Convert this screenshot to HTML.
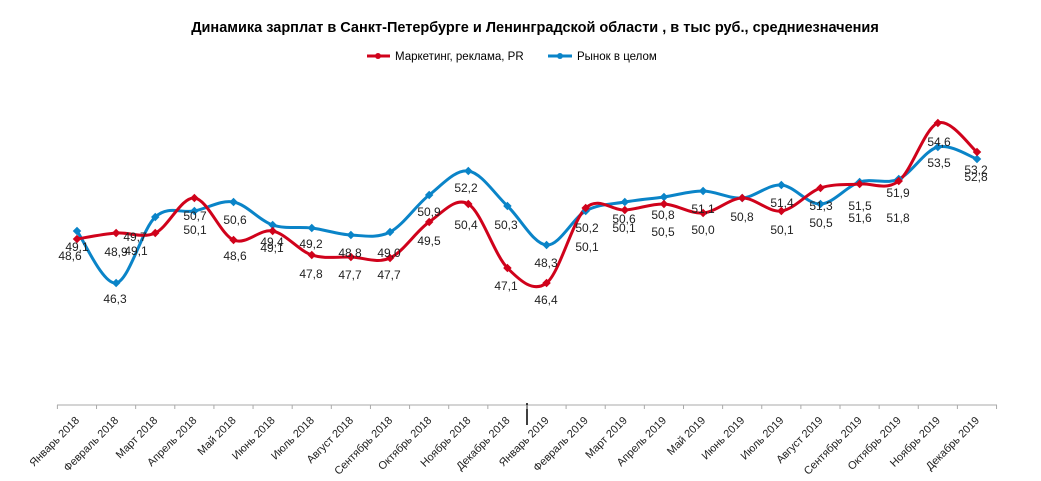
<!DOCTYPE html>
<html><head><meta charset="utf-8"><style>
body{margin:0;background:#fff}
svg{display:block;font-family:"Liberation Sans",sans-serif}
</style></head><body>
<svg id="s" width="1041" height="481" viewBox="0 0 1041 481">
<text x="535" y="32" text-anchor="middle" font-size="14.5" font-weight="bold" fill="#000">Динамика зарплат в Санкт-Петербурге и Ленинградской области , в тыс руб., средниезначения</text>
<line x1="367" y1="56" x2="390" y2="56" stroke="#d0021b" stroke-width="3"/><circle cx="378" cy="56" r="3" fill="#d0021b"/>
<text x="395" y="60" font-size="11.5">Маркетинг, реклама, PR</text>
<line x1="548" y1="56" x2="572" y2="56" stroke="#0a84c8" stroke-width="3"/><circle cx="560" cy="56" r="3" fill="#0a84c8"/>
<text x="577" y="60" font-size="11.5">Рынок в целом</text>
<line x1="57" y1="405" x2="997" y2="405" stroke="#aaa" stroke-width="1"/>
<line x1="527" y1="403" x2="527" y2="425" stroke="#000" stroke-width="1.5"/>
<g id="g"></g>
</svg>
<script>
var red=[239,233,233,198,240,231,255,257,258,222,204,268,283,208,210,204,213,198,211,188,184,181,123,152];
var blue=[231,283,217,211,202,225,228,235,232,195,171,206,245,211,202,197,191,198,185,204,182,179,147,159];
var months=["Январь 2018","Февраль 2018","Март 2018","Апрель 2018","Май 2018","Июнь 2018","Июль 2018","Август 2018","Сентябрь 2018","Октябрь 2018","Ноябрь 2018","Декабрь 2018","Январь 2019","Февраль 2019","Март 2019","Апрель 2019","Май 2019","Июнь 2019","Июль 2019","Август 2019","Сентябрь 2019","Октябрь 2019","Ноябрь 2019","Декабрь 2019"];
function X(i){return 77+i*(977-77)/23;}
function path(a){var p=a.map(function(y,i){return [X(i),y]});var d="M"+p[0][0]+","+p[0][1];
for(var i=0;i<p.length-1;i++){var p0=p[i-1]||p[i],p1=p[i],p2=p[i+1],p3=p[i+2]||p2;
d+=" C"+(p1[0]+(p2[0]-p0[0])/6)+","+(p1[1]+(p2[1]-p0[1])/6)+" "+(p2[0]-(p3[0]-p1[0])/6)+","+(p2[1]-(p3[1]-p1[1])/6)+" "+p2[0]+","+p2[1];}return d;}
var h="";
for(var i=0;i<=24;i++){var tx=X(i)-19.6;h+='<line x1="'+tx+'" y1="405" x2="'+tx+'" y2="409" stroke="#aaa"/>';}
h+='<path d="'+path(blue)+'" fill="none" stroke="#0a84c8" stroke-width="3"/>';
h+='<path d="'+path(red)+'" fill="none" stroke="#d0021b" stroke-width="3"/>';
blue.forEach(function(y,i){h+='<rect x="'+(X(i)-3)+'" y="'+(y-3)+'" width="6" height="6" transform="rotate(45 '+X(i)+' '+y+')" fill="#0a84c8"/>';});
red.forEach(function(y,i){h+='<rect x="'+(X(i)-3)+'" y="'+(y-3)+'" width="6" height="6" transform="rotate(45 '+X(i)+' '+y+')" fill="#d0021b"/>';});
var L=[[77,247,"49,1"],[70,256,"48,6"],[116,252,"48,9"],[115,299,"46,3"],[135,237,"49,7"],[136,251,"49,1"],[195,216,"50,7"],[195,230,"50,1"],[235,220,"50,6"],[235,256,"48,6"],[272,242,"49,4"],[272,248,"49,1"],[311,244,"49,2"],[311,274,"47,8"],[350,253,"48,8"],[350,275,"47,7"],[389,253,"49,0"],[389,275,"47,7"],[429,212,"50,9"],[429,241,"49,5"],[466,188,"52,2"],[466,225,"50,4"],[506,225,"50,3"],[506,286,"47,1"],[546,263,"48,3"],[546,300,"46,4"],[587,228,"50,2"],[587,247,"50,1"],[624,219,"50,6"],[624,228,"50,1"],[663,215,"50,8"],[663,232,"50,5"],[703,209,"51,1"],[703,230,"50,0"],[742,217,"50,8"],[782,203,"51,4"],[782,230,"50,1"],[821,206,"51,3"],[821,223,"50,5"],[860,206,"51,5"],[860,218,"51,6"],[898,193,"51,9"],[898,218,"51,8"],[939,142,"54,6"],[939,163,"53,5"],[976,170,"53,2"],[976,177,"52,8"]];
L.forEach(function(l){h+='<text x="'+l[0]+'" y="'+(l[1]+4)+'" text-anchor="middle" font-size="12" fill="#222">'+l[2]+'</text>';});
months.forEach(function(m,i){var x=X(i)+3,y=421;h+='<text x="'+x+'" y="'+y+'" text-anchor="end" font-size="11" fill="#222" transform="rotate(-45 '+x+' '+y+')">'+m+'</text>';});
document.getElementById("g").innerHTML=h;
</script>
</body></html>
